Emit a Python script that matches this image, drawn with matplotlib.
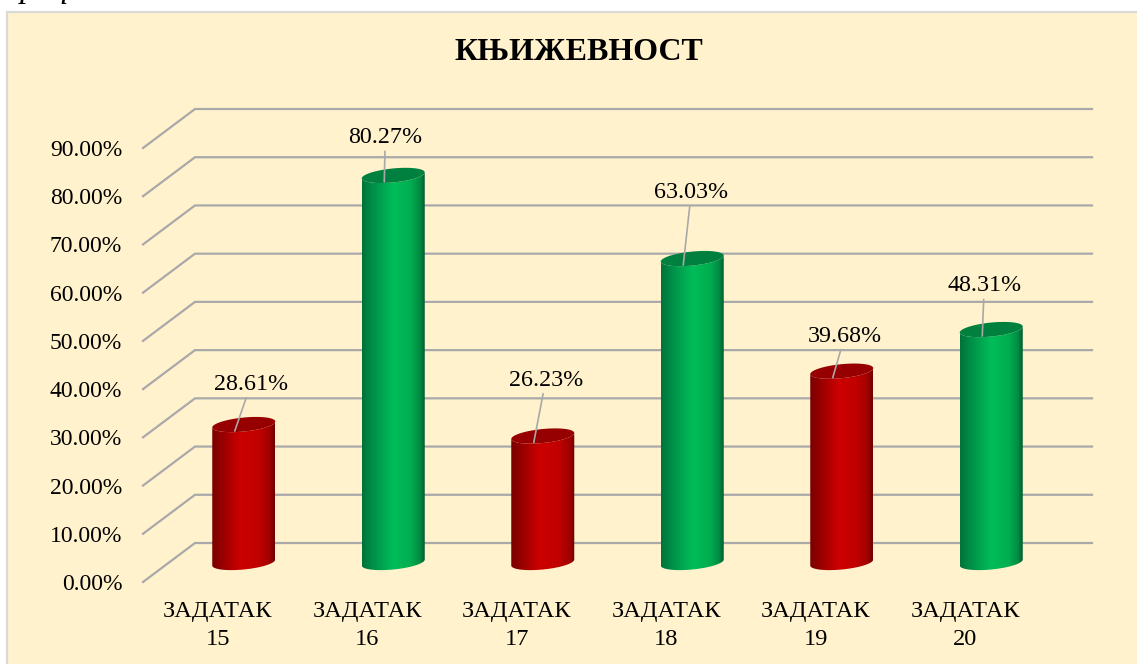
import numpy as np
import matplotlib
matplotlib.use('Agg')
import matplotlib.pyplot as plt
from matplotlib.colors import LinearSegmentedColormap
from matplotlib.patches import Polygon, Rectangle

plt.rcParams['font.family'] = ['Liberation Serif', 'DejaVu Serif']

# data
categories = ['ЗАДАТАК\n15', 'ЗАДАТАК\n16', 'ЗАДАТАК\n17', 'ЗАДАТАК\n18', 'ЗАДАТАК\n19', 'ЗАДАТАК\n20']
values = [28.61, 80.27, 26.23, 63.03, 39.68, 48.31]
bar_groups = ['red', 'green', 'red', 'green', 'red', 'green']
y_ticks = [0, 10, 20, 30, 40, 50, 60, 70, 80, 90]

# pixel offsets of the value labels from the bar top
label_dx = [7, -8, 3, -1, 3, -7]
label_dy = [40, 38, 56, 66, 35, 44]

W, H = 1137, 664
fig = plt.figure(figsize=(W / 100, H / 100), dpi=100, facecolor='white')

# panel behind the chart
fig.patches.append(Rectangle((7 / W, 0 - 2 / H), 1.1, (H - 12 + 2) / H, transform=fig.transFigure,
                             facecolor='#fff2cc', edgecolor='#d9d9d9', linewidth=1.6, zorder=-5))

# caption of the page, cut by the image top
fig.text(2 / W, 1 + 2.5 / H, 'Графикон 3', fontsize=24, style='italic', color='black', ha='left', va='baseline')

# front plane of the 3d box
ax = fig.add_axes([143 / W, 1 - 582 / H, (1040 - 143) / W, 434 / H])
ax.set_xlim(-0.5, 5.5)
ax.set_ylim(0, 90)
ax.patch.set_alpha(0)
for s in ax.spines.values():
    s.set_visible(False)
ax.tick_params(length=0)
ax.set_xticks(range(len(categories)))
ax.set_xticklabels(categories, fontsize=17.6, linespacing=1.4)
ax.tick_params(axis='x', pad=14)
ax.set_yticks(y_ticks)
ax.set_yticklabels(['%.2f%%' % t for t in y_ticks], fontsize=17, va='center_baseline')
ax.tick_params(axis='y', pad=15)

# depth of the box in data units
px_x = 6 / 897
px_y = 90 / 434
depth_x = 52 * px_x
depth_y = 39 * px_y

for t in y_ticks:
    ax.plot([-0.5, -0.5 + depth_x, 5.5 + depth_x], [t, t + depth_y, t + depth_y],
            color='#a9a9a9', lw=1.6, clip_on=False, zorder=1, solid_joinstyle='miter')

cmaps = {
    'red': LinearSegmentedColormap.from_list('r', [(0, '#7a0000'), (0.12, '#8e0000'), (0.45, '#cc0000'),
                                                   (0.75, '#c00000'), (0.92, '#a00000'), (1, '#6e0000')]),
    'green': LinearSegmentedColormap.from_list('g', [(0, '#00733a'), (0.15, '#008c47'), (0.5, '#00bd59'),
                                                     (0.78, '#00ad50'), (0.93, '#008a42'), (1, '#005c2e')]),
}
top_colors = {'red': '#960000', 'green': '#00803f'}

half_w = 31.5 * px_x
minor = 7 * px_y
tilt = 3 * px_y
t_lower = np.linspace(np.pi, 2 * np.pi, 60)
t_all = np.linspace(0, 2 * np.pi, 120)
ramp = np.linspace(0, 1, 200).reshape(1, -1)

for i, v in enumerate(values):
    cx = i + depth_x / 2
    y0 = depth_y / 2
    y1 = v + depth_y / 2
    gx = half_w * np.cos(t_lower)
    gy = minor * np.sin(t_lower) + tilt * np.cos(t_lower)
    # outline of the body: down the left, round the bottom, up the right, round the top
    body = np.vstack([
        np.column_stack([cx + gx, y0 + gy]),
        np.column_stack([cx + gx[::-1], y1 + gy[::-1]]),
    ])
    poly = Polygon(body, closed=True, transform=ax.transData, facecolor='none', edgecolor='none')
    ax.add_patch(poly)
    im = ax.imshow(ramp, cmap=cmaps[bar_groups[i]], aspect='auto', zorder=3, interpolation='bilinear',
                   extent=[cx - half_w, cx + half_w, y0 - 2 * minor, y1 + 2 * minor])
    im.set_clip_path(poly)
    top = np.column_stack([cx + half_w * np.cos(t_all),
                           y1 + minor * np.sin(t_all) + tilt * np.cos(t_all)])
    ax.add_patch(Polygon(top, closed=True, facecolor=top_colors[bar_groups[i]], edgecolor='none', zorder=4))
    # value label and its leader line
    ax.annotate('%.2f%%' % v, xy=(cx - 9 * px_x, y1 - 6.5 * px_y), xycoords='data',
                xytext=(cx + label_dx[i] * px_x, y1 + label_dy[i] * px_y), textcoords='data',
                ha='center', va='center', fontsize=17.3, zorder=6, annotation_clip=False,
                arrowprops=dict(arrowstyle='-', color='#a9a9a9', lw=1.2, shrinkA=10, shrinkB=0,
                                relpos=(0.5, 0.5), patchA=None))

# imshow resets the limits
ax.set_xlim(-0.5, 5.5)
ax.set_ylim(0, 90)

fig.text(579 / W, 1 - 53 / H, 'КЊИЖЕВНОСТ', fontsize=23, fontweight='bold', ha='center', va='center')

fig.savefig('out.png', dpi=100, facecolor='white')
